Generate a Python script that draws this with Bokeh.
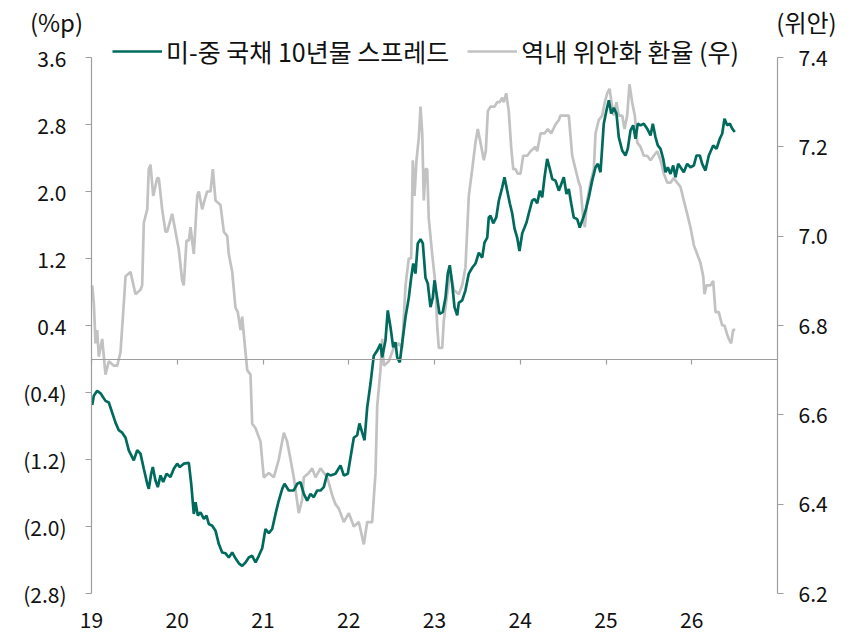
from bokeh.plotting import figure
from bokeh.models import (Range1d, LinearAxis, FixedTicker, CustomJSTickFormatter,
                          Legend, LegendItem, Label)
from bokeh.embed import file_html
from bokeh.resources import INLINE

FONT = "Noto Sans CJK KR"

# ---- data ----
spread_label = "미-중 국채 10년물 스프레드"
fx_label = "역내 위안화 환율 (우)"
left_unit = "(%p)"
right_unit = "(위안)"

fx_t = [19.008, 19.027, 19.047, 19.066, 19.085, 19.125, 19.163, 19.202, 19.260, 19.300,
        19.338, 19.377, 19.397, 19.455, 19.513, 19.571, 19.591, 19.610, 19.650, 19.668,
        19.688, 19.720, 19.766, 19.785, 19.824, 19.863, 19.883, 19.941, 19.980, 20.018,
        20.058, 20.076, 20.108, 20.135, 20.155, 20.193, 20.233, 20.251, 20.291, 20.318,
        20.349, 20.388, 20.415, 20.446, 20.504, 20.543, 20.583, 20.601, 20.641, 20.679,
        20.706, 20.738, 20.757, 20.776, 20.816, 20.854, 20.874, 20.913, 20.971, 21.009,
        21.068, 21.126, 21.184, 21.243, 21.282, 21.321, 21.359, 21.417, 21.457, 21.476,
        21.534, 21.574, 21.612, 21.671, 21.749, 21.807, 21.845, 21.884, 21.942, 22.001,
        22.059, 22.117, 22.176, 22.215, 22.273, 22.312, 22.332, 22.370, 22.390, 22.409,
        22.467, 22.525, 22.584, 22.623, 22.662, 22.700, 22.728, 22.747, 22.767, 22.790,
        22.817, 22.837, 22.857, 22.875, 22.895, 22.915, 22.933, 22.973, 23.012, 23.031,
        23.050, 23.090, 23.108, 23.148, 23.187, 23.225, 23.283, 23.323, 23.361, 23.400,
        23.440, 23.478, 23.505, 23.536, 23.575, 23.598, 23.622, 23.653, 23.700, 23.731,
        23.761, 23.789, 23.808, 23.836, 23.866, 23.894, 23.918, 23.945, 23.971, 24.003,
        24.034, 24.081, 24.120, 24.178, 24.198, 24.236, 24.283, 24.321, 24.361, 24.411,
        24.450, 24.469, 24.516, 24.566, 24.606, 24.644, 24.683, 24.703, 24.734, 24.753,
        24.781, 24.819, 24.858, 24.878, 24.916, 24.956, 24.986, 25.014, 25.041, 25.064,
        25.091, 25.122, 25.149, 25.189, 25.216, 25.247, 25.274, 25.305, 25.336, 25.364,
        25.402, 25.441, 25.480, 25.519, 25.557, 25.597, 25.636, 25.674, 25.714, 25.752,
        25.791, 25.830, 25.869, 25.907, 25.947, 25.985, 26.024, 26.063, 26.102, 26.134,
        26.149, 26.172, 26.219, 26.250, 26.277, 26.315, 26.355, 26.382, 26.413, 26.432,
        26.460, 26.483, 26.507]
fx_v = [6.89, 6.85, 6.76, 6.79, 6.73, 6.77, 6.69, 6.72, 6.71, 6.71,
        6.74, 6.85, 6.91, 6.92, 6.87, 6.88, 6.89, 7.03, 7.06, 7.15,
        7.16, 7.09, 7.13, 7.13, 7.06, 7.01, 7.01, 7.05, 7.01, 6.97,
        6.90, 6.89, 6.99, 6.99, 7.02, 6.96, 7.09, 7.10, 7.06, 7.08,
        7.10, 7.10, 7.15, 7.08, 7.07, 7.01, 7.00, 6.96, 6.92, 6.84,
        6.83, 6.79, 6.82, 6.78, 6.70, 6.69, 6.58, 6.57, 6.54, 6.46,
        6.47, 6.46, 6.50, 6.56, 6.54, 6.50, 6.46, 6.38, 6.41, 6.46,
        6.47, 6.48, 6.46, 6.48, 6.46, 6.42, 6.40, 6.39, 6.36, 6.38,
        6.35, 6.36, 6.31, 6.36, 6.36, 6.47, 6.62, 6.70, 6.77, 6.71,
        6.72, 6.75, 6.76, 6.75, 6.89, 6.95, 6.95, 7.17, 7.09, 7.17,
        7.22, 7.29, 7.23, 7.08, 7.15, 7.15, 7.04, 6.96, 6.89, 6.80,
        6.75, 6.75, 6.81, 6.87, 6.92, 6.88, 6.87, 6.89, 6.93, 7.09,
        7.15, 7.21, 7.24, 7.21, 7.17, 7.19, 7.28, 7.29, 7.29, 7.30,
        7.30, 7.31, 7.30, 7.32, 7.28, 7.20, 7.15, 7.15, 7.14, 7.14,
        7.18, 7.18, 7.19, 7.20, 7.19, 7.23, 7.23, 7.24, 7.23, 7.25,
        7.26, 7.27, 7.27, 7.27, 7.18, 7.15, 7.12, 7.11, 7.04, 7.02,
        7.08, 7.12, 7.15, 7.23, 7.26, 7.27, 7.30, 7.32, 7.33, 7.30,
        7.27, 7.30, 7.27, 7.27, 7.24, 7.27, 7.34, 7.30, 7.27, 7.21,
        7.20, 7.18, 7.18, 7.17, 7.18, 7.19, 7.17, 7.14, 7.12, 7.12,
        7.13, 7.12, 7.11, 7.08, 7.05, 7.02, 6.98, 6.96, 6.94, 6.91,
        6.87, 6.89, 6.89, 6.90, 6.83, 6.83, 6.80, 6.80, 6.78, 6.77,
        6.76, 6.79, 6.79]

sp_t = [19.008, 19.027, 19.066, 19.105, 19.163, 19.202, 19.241, 19.280, 19.318, 19.358,
        19.397, 19.435, 19.493, 19.533, 19.571, 19.610, 19.650, 19.668, 19.696, 19.715,
        19.746, 19.773, 19.805, 19.836, 19.875, 19.921, 19.960, 19.999, 20.030, 20.076,
        20.135, 20.163, 20.193, 20.213, 20.240, 20.271, 20.310, 20.341, 20.368, 20.408,
        20.446, 20.485, 20.524, 20.563, 20.601, 20.641, 20.679, 20.718, 20.757, 20.796,
        20.834, 20.874, 20.913, 20.951, 20.991, 21.029, 21.068, 21.107, 21.146, 21.184,
        21.224, 21.251, 21.301, 21.359, 21.399, 21.437, 21.476, 21.515, 21.554, 21.592,
        21.632, 21.671, 21.709, 21.749, 21.787, 21.845, 21.904, 21.942, 21.989, 22.020,
        22.059, 22.098, 22.125, 22.157, 22.184, 22.215, 22.254, 22.292, 22.332, 22.370,
        22.390, 22.428, 22.455, 22.487, 22.518, 22.545, 22.565, 22.595, 22.623, 22.662,
        22.700, 22.728, 22.752, 22.778, 22.805, 22.837, 22.864, 22.895, 22.922, 22.953,
        22.980, 23.000, 23.031, 23.058, 23.097, 23.128, 23.155, 23.178, 23.206, 23.233,
        23.265, 23.283, 23.323, 23.361, 23.400, 23.440, 23.478, 23.517, 23.556, 23.583,
        23.615, 23.633, 23.653, 23.685, 23.720, 23.750, 23.790, 23.816, 23.848, 23.878,
        23.906, 23.933, 23.964, 23.991, 24.023, 24.050, 24.073, 24.100, 24.139, 24.166,
        24.198, 24.228, 24.256, 24.283, 24.314, 24.345, 24.373, 24.411, 24.450, 24.508,
        24.539, 24.566, 24.594, 24.624, 24.664, 24.694, 24.722, 24.761, 24.799, 24.839,
        24.878, 24.905, 24.936, 24.974, 25.006, 25.033, 25.061, 25.091, 25.122, 25.149,
        25.189, 25.227, 25.254, 25.286, 25.317, 25.344, 25.371, 25.402, 25.441, 25.480,
        25.519, 25.546, 25.577, 25.604, 25.636, 25.667, 25.694, 25.721, 25.752, 25.784,
        25.810, 25.842, 25.869, 25.907, 25.947, 25.985, 26.024, 26.055, 26.094, 26.122,
        26.160, 26.199, 26.250, 26.289, 26.327, 26.355, 26.382, 26.413, 26.444, 26.472,
        26.502]
sp_v = [-0.55, -0.44, -0.38, -0.41, -0.50, -0.52, -0.64, -0.76, -0.85, -0.88,
        -0.94, -1.09, -1.21, -1.09, -1.13, -1.31, -1.49, -1.55, -1.37, -1.29,
        -1.45, -1.53, -1.39, -1.47, -1.37, -1.41, -1.31, -1.25, -1.29, -1.25,
        -1.24, -1.49, -1.85, -1.71, -1.87, -1.83, -1.91, -1.87, -1.97, -1.99,
        -2.05, -2.21, -2.31, -2.32, -2.37, -2.31, -2.38, -2.44, -2.47, -2.43,
        -2.37, -2.35, -2.43, -2.35, -2.26, -2.03, -2.08, -2.03, -1.85, -1.69,
        -1.55, -1.49, -1.57, -1.57, -1.49, -1.47, -1.61, -1.69, -1.61, -1.65,
        -1.57, -1.57, -1.53, -1.37, -1.39, -1.37, -1.27, -1.39, -1.37, -1.18,
        -0.94, -0.91, -0.77, -0.88, -0.97, -0.58, -0.29, 0.04, 0.10, 0.18,
        0.02, 0.22, 0.58, 0.38, 0.14, 0.20, 0.02, -0.04, 0.19, 0.50,
        0.73, 0.97, 1.14, 1.02, 1.38, 1.43, 1.38, 0.97, 0.90, 0.62,
        0.73, 0.94, 0.73, 0.54, 0.56, 0.73, 1.02, 1.12, 0.90, 0.62,
        0.52, 0.67, 0.70, 0.82, 1.02, 1.09, 1.14, 1.27, 1.21, 1.39,
        1.45, 1.69, 1.71, 1.62, 1.69, 1.89, 2.05, 2.17, 2.01, 1.86,
        1.74, 1.56, 1.45, 1.29, 1.50, 1.57, 1.63, 1.74, 1.89, 1.91,
        1.86, 2.01, 1.93, 2.17, 2.39, 2.27, 2.15, 2.13, 2.01, 2.17,
        1.97, 2.03, 1.86, 1.69, 1.67, 1.57, 1.65, 1.77, 1.93, 2.13,
        2.29, 2.33, 2.23, 2.81, 2.97, 3.09, 2.93, 3.00, 2.93, 2.65,
        2.49, 2.43, 2.51, 2.73, 2.79, 2.63, 2.81, 2.79, 2.81, 2.75,
        2.67, 2.81, 2.65, 2.55, 2.51, 2.39, 2.23, 2.29, 2.21, 2.31,
        2.17, 2.33, 2.29, 2.23, 2.33, 2.29, 2.31, 2.43, 2.43, 2.33,
        2.25, 2.43, 2.55, 2.51, 2.63, 2.69, 2.87, 2.79, 2.81, 2.75,
        2.71]

x_ticks = [19, 20, 21, 22, 23, 24, 25, 26]
left_ticks = [-2.8, -2.0, -1.2, -0.4, 0.4, 1.2, 2.0, 2.8, 3.6]
right_ticks = [6.2, 6.4, 6.6, 6.8, 7.0, 7.2, 7.4]

X0, X1 = 19, 27          # plotted period
YL0, YL1 = -2.8, 3.6     # left axis span
YR0, YR1 = 6.2, 7.4      # right axis span

# ---- layout (pixels) ----
W, H = 851, 632
BOX_L, BOX_R, BOX_T, BOX_B = 91, 777, 57, 593

GREEN = "#006B5D"
GRAY = "#C2C2C2"
AXIS = "#9E9E9E"
TXT = "#111111"
FS = "21px"

kx = (X1 - X0) / (BOX_R - BOX_L)
kl = (YL1 - YL0) / (BOX_B - BOX_T)
kr = (YR1 - YR0) / (BOX_B - BOX_T)

p = figure(width=W, height=H,
           x_range=Range1d(X0 - BOX_L * kx, X1 + (W - BOX_R) * kx),
           y_range=Range1d(YL0 - (H - BOX_B) * kl, YL1 + BOX_T * kl),
           output_backend="svg", toolbar_location=None, x_axis_type=None, y_axis_type=None,
           min_border=0, min_border_left=0, min_border_right=0, min_border_top=0, min_border_bottom=0)
p.outline_line_color = None
p.background_fill_color = "white"
p.border_fill_color = "white"
p.extra_y_ranges = {"fx": Range1d(YR0 - (H - BOX_B) * kr, YR1 + BOX_T * kr)}

gray_r = p.line(fx_t, fx_v, y_range_name="fx", line_color=GRAY, line_width=2.7)
green_r = p.line(sp_t, sp_v, line_color=GREEN, line_width=2.7)


def style(ax):
    ax.axis_line_color = AXIS
    ax.axis_line_width = 1.2
    ax.major_tick_line_color = AXIS
    ax.major_tick_line_width = 1.2
    ax.minor_tick_line_color = None
    ax.major_label_text_font = FONT
    ax.major_label_text_font_size = FS
    ax.major_label_text_color = TXT


left = LinearAxis(fixed_location=X0, bounds=(YL0, YL1), ticker=FixedTicker(ticks=left_ticks),
                  formatter=CustomJSTickFormatter(code="return tick < 0 ? '(' + (-tick).toFixed(1) + ')' : tick.toFixed(1);"))
style(left)
left.major_tick_out = 6
left.major_tick_in = 0
left.major_label_standoff = 19
p.add_layout(left, "left")

right = LinearAxis(fixed_location=X1, y_range_name="fx", bounds=(YR0, YR1),
                   ticker=FixedTicker(ticks=right_ticks),
                   formatter=CustomJSTickFormatter(code="return tick.toFixed(1);"))
style(right)
right.major_tick_out = 6
right.major_tick_in = 0
right.major_label_standoff = 15
p.add_layout(right, "right")

zero = LinearAxis(fixed_location=0, bounds=(X0, X1), ticker=FixedTicker(ticks=x_ticks),
                  formatter=CustomJSTickFormatter(code="return '';"))
style(zero)
zero.major_label_text_font_size = "0px"
zero.major_tick_out = 5
zero.major_tick_in = 0
p.add_layout(zero, "below")

xlab = LinearAxis(fixed_location=YL0, bounds=(X0, X1), ticker=FixedTicker(ticks=x_ticks),
                  formatter=CustomJSTickFormatter(code="return Math.round(tick).toString();"))
style(xlab)
xlab.axis_line_color = None
xlab.major_tick_line_color = None
xlab.major_tick_out = 0
xlab.major_tick_in = 0
xlab.major_label_standoff = 18
p.add_layout(xlab, "below")

legend = Legend(items=[LegendItem(label=spread_label, renderers=[green_r]),
                       LegendItem(label=fx_label, renderers=[gray_r])],
                orientation="horizontal", location=(112, 563))
legend.label_text_font = FONT
legend.label_text_font_size = "25px"
legend.label_text_color = TXT
legend.glyph_width = 50
legend.glyph_height = 26
legend.label_height = 26
legend.label_standoff = 4
legend.spacing = 18
legend.padding = 0
legend.margin = 0
legend.border_line_color = None
legend.background_fill_alpha = 0
p.add_layout(legend, "center")

p.add_layout(Label(x=X0 - (BOX_L - 56) * kx, y=YL1 + (BOX_T - 21) * kl, text=left_unit,
                   text_align="center", text_baseline="middle",
                   text_font=FONT, text_font_size="24px", text_color=TXT))
p.add_layout(Label(x=X1 + (806 - BOX_R) * kx, y=YL1 + (BOX_T - 21) * kl, text=right_unit,
                   text_align="center", text_baseline="middle",
                   text_font=FONT, text_font_size="24px", text_color=TXT))

open("out.html", "w").write(file_html(p, INLINE))
